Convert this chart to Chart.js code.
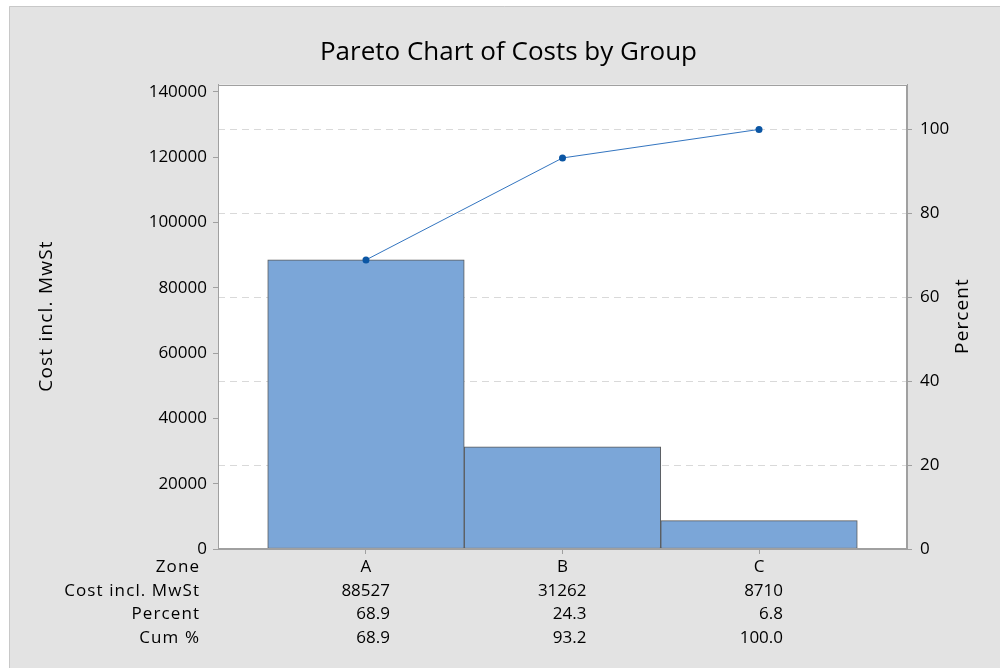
<!DOCTYPE html>
<html><head><meta charset="utf-8">
<script src="https://cdn.jsdelivr.net/npm/chart.js@4/dist/chart.umd.min.js"></script>
<style>html,body{margin:0;padding:0;background:#fff}#wrap{width:1000px;height:668px}</style>
</head><body><div id="wrap"><canvas id="c" width="1000" height="668"></canvas></div>
<script>
const categories = ['A', 'B', 'C'];
const costs = [88527, 31262, 8710];
const percents = [68.9, 24.3, 6.8];
const cumPercents = [68.9, 93.2, 100.0];
const costTicks = [0, 20000, 40000, 60000, 80000, 100000, 120000, 140000];
const percentTicks = [0, 20, 40, 60, 80, 100];
const rowLabels = ['Zone', 'Cost incl. MwSt', 'Percent', 'Cum %'];
const costAxisMax = 142200;

const total = costs.reduce((a, b) => a + b, 0);
const percentAxisMax = costAxisMax / total * 100;
const FONT = "'Open Sans', 'Segoe UI', sans-serif";
const TXT = '#000000';
const AXIS = '#a0a0a0';

Chart.defaults.font.family = FONT;
Chart.defaults.color = TXT;

function spacedText(ctx, text, x, y, spacing) {
  if ('letterSpacing' in ctx) {
    ctx.letterSpacing = spacing + 'px';
    ctx.fillText(text, x, y);
    ctx.letterSpacing = '0px';
  } else {
    ctx.fillText(text, x, y);
  }
}

const framePlugin = {
  id: 'frame',
  beforeDraw(chart) {
    const ctx = chart.ctx, a = chart.chartArea;
    ctx.save();
    ctx.fillStyle = '#ffffff';
    ctx.fillRect(0, 0, chart.width, chart.height);
    ctx.fillStyle = '#e3e3e3';
    ctx.fillRect(9, 6, chart.width - 9, chart.height - 6);
    ctx.strokeStyle = '#c8c8c8';
    ctx.lineWidth = 1;
    ctx.beginPath();
    ctx.moveTo(9.5, chart.height); ctx.lineTo(9.5, 6.5); ctx.lineTo(chart.width, 6.5);
    ctx.stroke();
    ctx.fillStyle = '#ffffff';
    ctx.fillRect(a.left, a.top, a.right - a.left, a.bottom - a.top);
    ctx.restore();
  },
  afterDatasetsDraw(chart) {
    const ctx = chart.ctx, a = chart.chartArea;
    ctx.save();
    ctx.strokeStyle = AXIS;
    ctx.lineWidth = 1;
    ctx.strokeRect(Math.round(a.left) + 0.5, Math.round(a.top) + 0.5,
      Math.round(a.right - a.left) - 1, Math.round(a.bottom - a.top) - 1);
    ctx.restore();
  },
  afterDraw(chart) {
    const ctx = chart.ctx;
    const xs = chart.scales.x;
    ctx.save();
    ctx.fillStyle = TXT;
    ctx.font = '17px ' + FONT;
    ctx.textBaseline = 'middle';
    const rowY = [567, 591, 614.5, 638];
    ctx.textAlign = 'right';
    rowLabels.forEach((t, r) => spacedText(ctx, t, 199 + 1.1, rowY[r], 1.1));
    const rows = [costs.map(String), percents.map(v => v.toFixed(1)), cumPercents.map(v => v.toFixed(1))];
    rows.forEach((vals, r) => {
      vals.forEach((t, i) => {
        ctx.fillText(t, xs.getPixelForValue(i) + 24, rowY[r + 1]);
      });
    });
    ctx.font = '19px ' + FONT;
    ctx.textAlign = 'center';
    ctx.save();
    ctx.translate(963, 316);
    ctx.rotate(-Math.PI / 2);
    spacedText(ctx, 'Percent', 0, 0, 1.1);
    ctx.restore();
    ctx.save();
    ctx.translate(47, 316);
    ctx.rotate(-Math.PI / 2);
    spacedText(ctx, 'Cost incl. MwSt', 0, 0, 1.2);
    ctx.restore();
    ctx.restore();
  }
};

new Chart(document.getElementById('c'), {
  type: 'bar',
  data: {
    datasets: [
      {
        type: 'line',
        data: cumPercents.map((v, i) => ({ x: i, y: v })),
        xAxisID: 'x', yAxisID: 'y1',
        borderColor: '#3375c0', borderWidth: 1,
        pointRadius: 3.5, pointBackgroundColor: '#0b56a4', pointBorderColor: '#0b56a4', pointBorderWidth: 0,
        order: 1
      },
      {
        type: 'bar',
        data: costs.map((v, i) => ({ x: i, y: v })),
        xAxisID: 'x', yAxisID: 'y',
        backgroundColor: '#7ba6d8', borderColor: '#5a5a5a', borderWidth: 1, borderSkipped: false,
        barPercentage: 1, categoryPercentage: 1,
        order: 2
      }
    ]
  },
  options: {
    responsive: false, animation: false,
    layout: { padding: { left: 17, top: 0, right: 0, bottom: 0 } },
    events: [],
    plugins: {
      legend: { display: false },
      tooltip: { enabled: false },
      title: {
        display: true, text: 'Pareto Chart of Costs by Group', color: TXT,
        font: { family: FONT, size: 26, weight: 'normal', lineHeight: 1.2 },
        padding: { top: 37, bottom: 16.5 }
      }
    },
    scales: {
      x: {
        type: 'linear', position: 'bottom', min: -0.753, max: 2.753, offset: false,
        afterBuildTicks: s => { s.ticks = categories.map((c, i) => ({ value: i })); },
        afterFit: s => { s.height = 119; },
        ticks: { callback: v => categories[v], color: TXT, font: { size: 17 }, padding: 3, autoSkip: false, maxRotation: 0 },
        grid: { drawOnChartArea: false, offset: false, tickLength: 5, color: AXIS, tickColor: AXIS },
        border: { color: AXIS }
      },
      y: {
        position: 'left', min: 0, max: costAxisMax,
        afterBuildTicks: s => { s.ticks = costTicks.map(v => ({ value: v })); },
        afterFit: s => { s.width = 201; },
        ticks: { color: TXT, font: { size: 17 }, padding: 6, callback: v => String(v) },
        grid: { drawOnChartArea: false, tickLength: 5, color: AXIS, tickColor: AXIS },
        border: { color: AXIS }
      },
      y1: {
        position: 'right', min: 0, max: percentAxisMax,
        afterBuildTicks: s => { s.ticks = percentTicks.map(v => ({ value: v })); },
        afterFit: s => { s.width = 93; },
        ticks: { color: TXT, font: { size: 17 }, padding: 8, callback: v => String(v) },
        grid: {
          drawOnChartArea: true, tickLength: 5,
          color: c => (c.tick && c.tick.value === 0) ? 'rgba(0,0,0,0)' : '#d9d9d9',
          tickColor: AXIS, tickBorderDash: []
        },
        border: { color: AXIS, dash: [7, 5] }
      }
    }
  },
  plugins: [framePlugin]
});
</script>
</body></html>
